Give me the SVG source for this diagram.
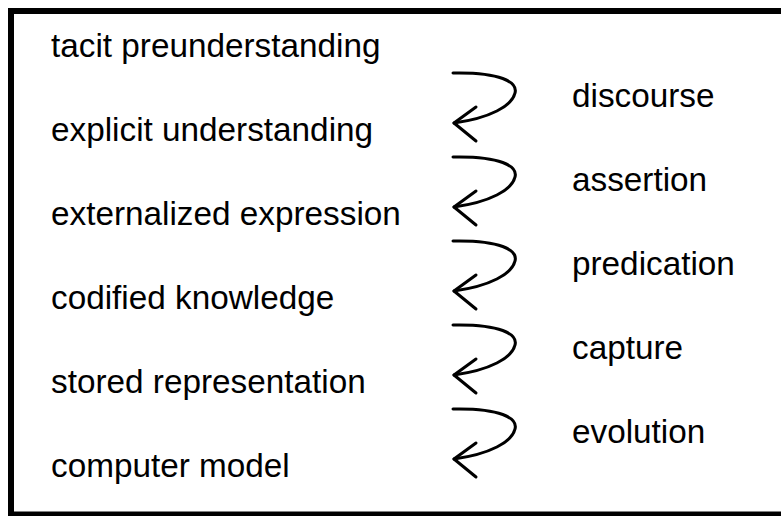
<svg xmlns="http://www.w3.org/2000/svg" xmlns:xlink="http://www.w3.org/1999/xlink" width="781" height="516" viewBox="0 0 781 516">
  <style>
    .lbl { font-family: "Liberation Sans", Arial, sans-serif; font-size: 33.3px; fill: #000; }
    .arr { fill: none; stroke: #000; stroke-width: 3; stroke-linecap: round; stroke-linejoin: round; }
  </style>
  <defs>
    <g id="loop">
      <path class="arr" d="M453,73 C500,72 518,82 515,93 C512,106 490,118 454,123"/>
      <path class="arr" d="M476,107 L454,123 L476,141"/>
    </g>
  </defs>
  <rect x="11" y="11" width="800" height="503.5" fill="#fff" stroke="#000" stroke-width="6"/>
  <g id="connectors">
    <use xlink:href="#loop"/>
    <use xlink:href="#loop" transform="translate(0,84)"/>
    <use xlink:href="#loop" transform="translate(0,168)"/>
    <use xlink:href="#loop" transform="translate(0,252)"/>
    <use xlink:href="#loop" transform="translate(0,336)"/>
  </g>
  <g id="n-tacit"><text class="lbl" x="51" y="57">tacit preunderstanding</text></g>
  <g id="n-explicit"><text class="lbl" x="51" y="141">explicit understanding</text></g>
  <g id="n-externalized"><text class="lbl" x="51" y="225">externalized expression</text></g>
  <g id="n-codified"><text class="lbl" x="51" y="309">codified knowledge</text></g>
  <g id="n-stored"><text class="lbl" x="51" y="393">stored representation</text></g>
  <g id="n-computer"><text class="lbl" x="51" y="477">computer model</text></g>
  <g id="l-discourse"><text class="lbl" x="572" y="107">discourse</text></g>
  <g id="l-assertion"><text class="lbl" x="572" y="191">assertion</text></g>
  <g id="l-predication"><text class="lbl" x="572" y="275">predication</text></g>
  <g id="l-capture"><text class="lbl" x="572" y="359">capture</text></g>
  <g id="l-evolution"><text class="lbl" x="572" y="443">evolution</text></g>
</svg>
